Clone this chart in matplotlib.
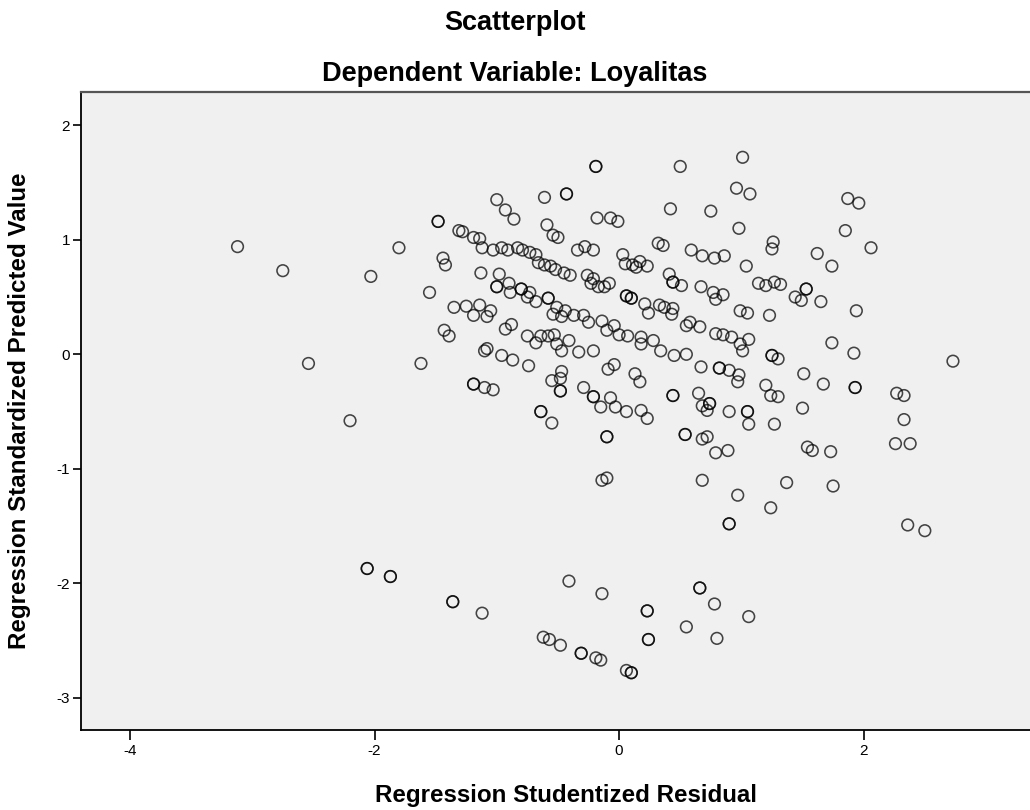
import matplotlib
matplotlib.use("Agg")
import matplotlib.pyplot as plt

# Regression Studentized Residual (x) and Regression Standardized Predicted Value (y)
resid = [
    -3.12, -2.75, -2.54, -2.20, -2.03, -1.80, -1.62, -1.55, -1.48, -1.44,
    -1.42, -1.43, -1.39, -1.35, -1.31, -1.28, -1.25, -1.19, -1.14, -1.19,
    -1.14, -1.08, -1.05, -1.19, -1.10, -1.03, -1.12, -1.03, -0.96, -0.91,
    -0.83, -0.79, -0.73, -0.68, -0.66, -0.61, -0.56, -0.52, -1.00, -0.93,
    -0.86, -0.61, -0.59, -0.54, -0.50, -1.13, -0.98, -0.90, -1.00, -0.89,
    -0.80, -0.73, -0.75, -0.68, -0.58, -0.51, -0.54, -0.88, -0.93, -0.75,
    -0.68, -0.64, -0.58, -0.53, -1.10, -1.08, -0.96, -0.87, -0.74, -0.64,
    -0.55,
    -0.19, 0.50, 1.01, -0.43, 0.96, 1.07, 0.42, 0.75, -0.18, -0.07,
    -0.01, 0.98, 0.32, 0.36, 1.26, 1.25, -0.34, -0.28, -0.21, 0.59,
    0.68, 0.78, 0.86, 0.03, 0.05, 0.11, 0.14, 0.17, 0.23, 1.04,
    -0.45, -0.40, -0.26, -0.21, -0.23, -0.17, -0.12, -0.08, 0.41, 0.44,
    0.51, 0.67, 0.77, 0.79, 0.85, 1.14, 1.20, 1.27, 1.32, 0.06,
    0.10, -0.44, -0.47, -0.37, -0.29, -0.25, -0.14, -0.10, -0.04, 0.21,
    0.24, 0.33, 0.37, 0.44, 0.43, 0.55, 0.58, 0.66, 0.99, 1.05,
    1.23,
    1.87, 1.96, 1.85, 2.06, 1.62, 1.74, 1.53, 1.44, 1.49, 1.65,
    1.94, 1.74,
    -0.41, -0.51, -0.47, -0.33, -0.21, 0.00, 0.07, 0.18, 0.18, 0.28,
    0.34, 0.45, 0.55, 0.79, 0.85, 0.92, 0.99, 1.01, 1.06, 1.25,
    1.30, -0.47, -0.48, -0.55, -0.48, -0.09, -0.04, 0.13, 0.17, 0.67,
    0.82, 0.90, 0.98, 0.97, 1.20, 1.24, 1.30, -0.29, -0.21, -0.15,
    -0.07, -0.03, 0.06, 0.18, 0.23, 0.44, 0.65, 0.68, 0.72, 0.74,
    0.90, 1.05, 1.06, 1.27, -0.10, 0.54, 0.68, 0.72, 0.79, 0.89,
    -0.14, -0.10, 0.68, 0.97, 1.24, 0.90,
    1.92, 2.73, 1.51, 1.67, 1.93, 2.27, 2.33, 1.50, 2.33, 1.54,
    1.58, 1.73, 2.26, 2.38, 1.37, 1.75, 2.36, 2.50,
    -2.06, -1.87, -1.36, -1.12, -0.62, -0.57, -0.48, -0.41, -0.14, 0.23,
    0.66, 0.78, 1.06, 0.55, 0.24, 0.80, -0.31, -0.19, -0.15, 0.06,
    0.10,
]
pred = [
    0.94, 0.73, -0.08, -0.58, 0.68, 0.93, -0.08, 0.54, 1.16, 0.84,
    0.78, 0.21, 0.16, 0.41, 1.08, 1.07, 0.42, 1.02, 1.01, 0.34,
    0.43, 0.33, 0.38, -0.26, -0.29, -0.31, 0.93, 0.91, 0.93, 0.91,
    0.93, 0.91, 0.89, 0.87, 0.80, 0.78, 0.77, 0.74, 1.35, 1.26,
    1.18, 1.37, 1.13, 1.04, 1.02, 0.71, 0.70, 0.62, 0.59, 0.54,
    0.57, 0.54, 0.50, 0.46, 0.49, 0.41, 0.35, 0.26, 0.22, 0.16,
    0.10, 0.16, 0.16, 0.17, 0.03, 0.05, -0.01, -0.05, -0.10, -0.50,
    -0.60,
    1.64, 1.64, 1.72, 1.40, 1.45, 1.40, 1.27, 1.25, 1.19, 1.19,
    1.16, 1.10, 0.97, 0.95, 0.98, 0.92, 0.91, 0.94, 0.91, 0.91,
    0.86, 0.84, 0.86, 0.87, 0.79, 0.78, 0.76, 0.81, 0.77, 0.77,
    0.71, 0.69, 0.69, 0.66, 0.62, 0.59, 0.59, 0.62, 0.70, 0.63,
    0.60, 0.59, 0.54, 0.48, 0.52, 0.62, 0.60, 0.63, 0.61, 0.51,
    0.49, 0.38, 0.33, 0.34, 0.34, 0.28, 0.29, 0.21, 0.25, 0.44,
    0.36, 0.43, 0.41, 0.40, 0.35, 0.25, 0.28, 0.24, 0.38, 0.36,
    0.34,
    1.36, 1.32, 1.08, 0.93, 0.88, 0.77, 0.57, 0.50, 0.47, 0.46,
    0.38, 0.10,
    0.12, 0.09, 0.03, 0.02, 0.03, 0.17, 0.16, 0.15, 0.09, 0.12,
    0.03, -0.01, 0.00, 0.18, 0.17, 0.15, 0.09, 0.03, 0.13, -0.01,
    -0.04, -0.15, -0.21, -0.23, -0.32, -0.13, -0.09, -0.17, -0.24, -0.11,
    -0.12, -0.14, -0.18, -0.24, -0.27, -0.36, -0.37, -0.29, -0.37, -0.46,
    -0.38, -0.46, -0.50, -0.49, -0.56, -0.36, -0.34, -0.45, -0.49, -0.43,
    -0.50, -0.50, -0.61, -0.61, -0.72, -0.70, -0.74, -0.72, -0.86, -0.84,
    -1.10, -1.08, -1.10, -1.23, -1.34, -1.48,
    0.01, -0.06, -0.17, -0.26, -0.29, -0.34, -0.36, -0.47, -0.57, -0.81,
    -0.84, -0.85, -0.78, -0.78, -1.12, -1.15, -1.49, -1.54,
    -1.87, -1.94, -2.16, -2.26, -2.47, -2.49, -2.54, -1.98, -2.09, -2.24,
    -2.04, -2.18, -2.29, -2.38, -2.49, -2.48, -2.61, -2.65, -2.67, -2.76,
    -2.78,
]

# cases that fall on the same spot as another case
dup_resid = [
    -1.48, -1.19, -1.00, -0.80, -0.58, -0.64, -0.19, -0.43, 0.44, 0.06,
    0.10, 1.53, 1.25, -0.48, 0.82, -0.21, 0.44, 0.74, 1.05, -0.10,
    0.54, 0.90, 1.93, -2.06, -1.87, -1.36, 0.23, 0.66, 0.24, -0.31,
    0.10,
]
dup_pred = [
    1.16, -0.26, 0.59, 0.57, 0.49, -0.50, 1.64, 1.40, 0.63, 0.51,
    0.49, 0.57, -0.01, -0.32, -0.12, -0.37, -0.36, -0.43, -0.50, -0.72,
    -0.70, -1.48, -0.29, -1.87, -1.94, -2.16, -2.24, -2.04, -2.49, -2.61,
    -2.78,
]

x_ticks = [-4, -2, 0, 2]
y_ticks = [-3, -2, -1, 0, 1, 2]

plt.rcParams['font.family'] = ['Liberation Sans', 'DejaVu Sans']

W, H = 1030, 810
fig = plt.figure(figsize=(W / 100, H / 100), dpi=100)
fig.patch.set_facecolor('white')

# plot frame in pixel terms: left 81, top 92, bottom 730, open to the right edge
ax = fig.add_axes([81 / W, (H - 730) / H, 1 - 81 / W, (730 - 92) / H])
ax.set_facecolor('#f0f0f0')

ax.scatter(resid + dup_resid, pred + dup_pred, s=70, facecolors='none',
           edgecolors='black', linewidths=1.15, alpha=0.72, zorder=3)

ax.set_xlim(-4.40, 3.36)
ax.set_ylim(-3.28, 2.29)
ax.set_xticks(x_ticks)
ax.set_yticks(y_ticks)
ax.set_xticklabels([str(t) for t in x_ticks])
ax.set_yticklabels([str(t) for t in y_ticks])

ax.spines['right'].set_visible(False)
ax.spines['top'].set_color('#555555')
ax.spines['top'].set_linewidth(1.6)
for side in ('left', 'bottom'):
    ax.spines[side].set_color('black')
    ax.spines[side].set_linewidth(1.3)

ax.tick_params(axis='x', direction='out', length=7, width=1.2, labelsize=11, pad=3)
ax.tick_params(axis='y', direction='out', length=6, width=1.2, labelsize=11, pad=2)

fig.text(515 / W, 1 - 30 / H, 'Scatterplot', ha='center', va='baseline',
         fontsize=19.5, fontweight='bold')
fig.text(515 / W, 1 - 81 / H, 'Dependent Variable: Loyalitas', ha='center',
         va='baseline', fontsize=19.5, fontweight='bold')
fig.text(566 / W, 1 - 802 / H, 'Regression Studentized Residual', ha='center',
         va='baseline', fontsize=17.4, fontweight='bold')
fig.text(20 / W, 1 - 411 / H, 'Regression Standardized Predicted Value',
         ha='center', va='center', rotation=90, fontsize=17.4, fontweight='bold')

fig.savefig('out.png', dpi=100, facecolor='white')
